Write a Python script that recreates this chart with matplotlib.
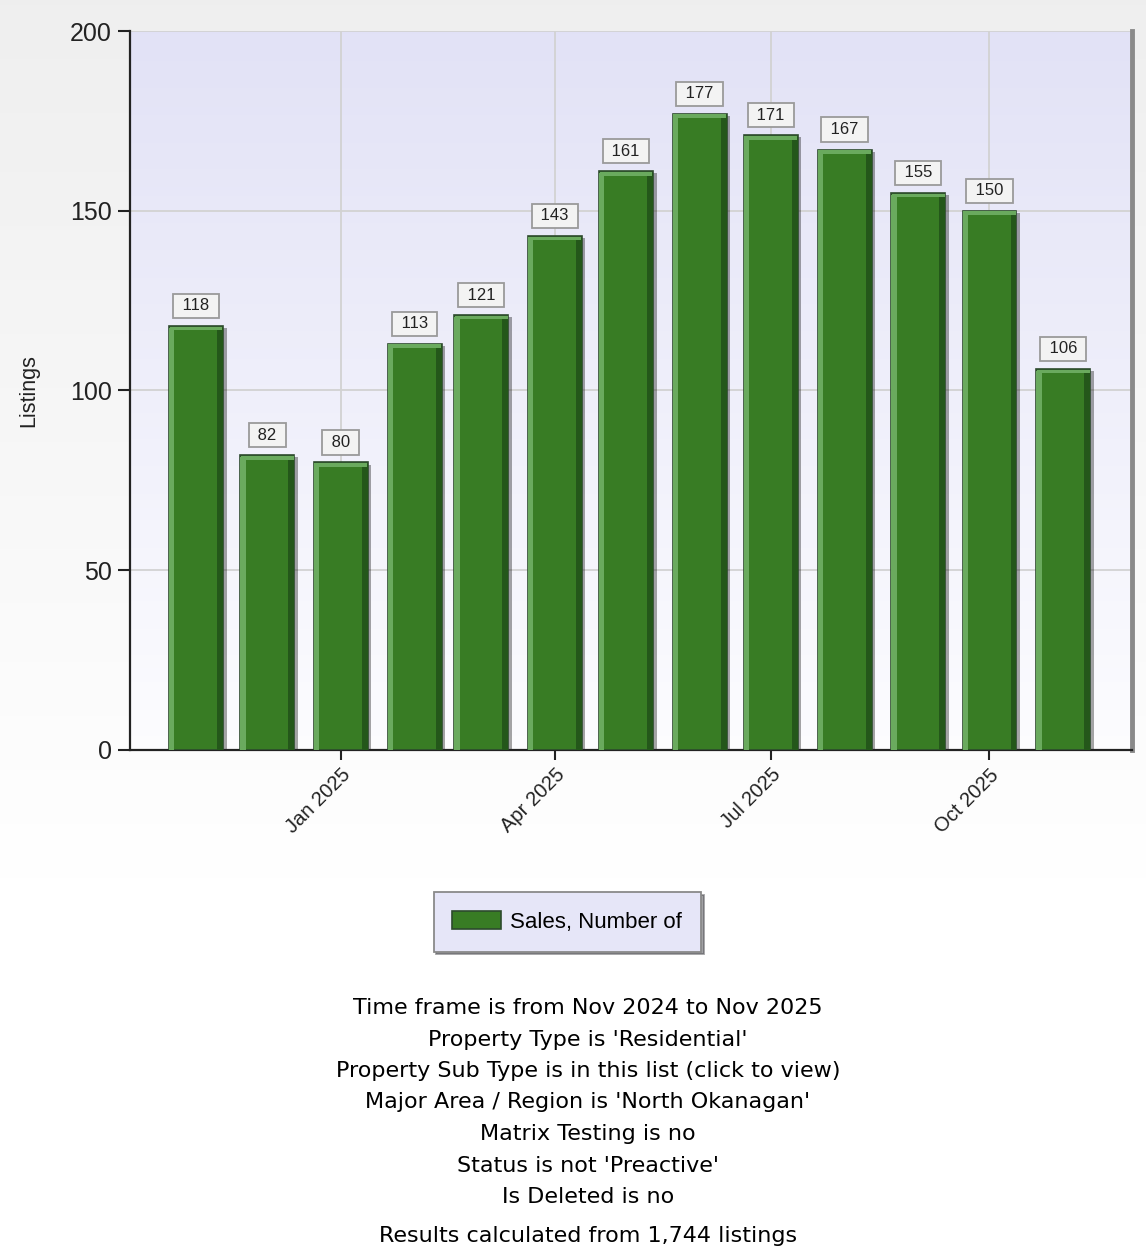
import matplotlib.pyplot as plt
import matplotlib.dates as mdates
from matplotlib.patches import Patch
import pandas as pd
import numpy as np

plt.rcParams['font.family'] = ['Liberation Sans', 'DejaVu Sans']

months = ["2024-11", "2024-12", "2025-01", "2025-02", "2025-03", "2025-04", "2025-05",
          "2025-06", "2025-07", "2025-08", "2025-09", "2025-10", "2025-11"]
sales = [118, 82, 80, 113, 121, 143, 161, 177, 171, 167, 155, 150, 106]
tick_months = ["2025-01", "2025-04", "2025-07", "2025-10"]
series_name = "Sales, Number of"
footer = ["Time frame is from Nov 2024 to Nov 2025",
          "Property Type is 'Residential'",
          "Property Sub Type is in this list (click to view)",
          "Major Area / Region is 'North Okanagan'",
          "Matrix Testing is no",
          "Status is not 'Preactive'",
          "Is Deleted is no"]
footer_last = "Results calculated from 1,744 listings"

x = mdates.date2num(pd.to_datetime(months))
h = np.array(sales, dtype=float)
bw = 22.7  # bar width in days

fig = plt.figure(figsize=(11.46, 12.56), dpi=100)

# page background gradient
bg = fig.add_axes([0, 0, 1, 1], zorder=-10)
grad = np.linspace(0, 1, 256).reshape(-1, 1)
top = np.array([0.937, 0.937, 0.937])
bot = np.array([1.0, 1.0, 1.0])
g = np.clip(grad / 0.7, 0, 1)
img = top + (bot - top) * g[..., None]
bg.imshow(img, aspect='auto', extent=[0, 1, 0, 1], origin='upper')
bg.axis('off')

ax = fig.add_axes([0.1134, 0.4029, 0.8744, 0.5724])
ax.patch.set_visible(False)
pa = np.linspace(0, 1, 256).reshape(-1, 1)
ptop = np.array([0.886, 0.886, 0.965])
pbot = np.array([0.99, 0.99, 1.0])
pimg = ptop + (pbot - ptop) * pa[..., None]
ax.imshow(pimg, aspect='auto', extent=[0, 1, 0, 1], origin='upper',
          transform=ax.transAxes, zorder=0)

ax.set_xlim(x[0] - 27.8, x[0] + 394)
ax.set_ylim(0, 200)

# shadows
ax.bar(x + 1.5, h - 0.6, bw, color='black', alpha=0.35, zorder=2, linewidth=0)
# main bars
ax.bar(x, h, bw, color='#387c24', edgecolor='#2d4a2d', linewidth=1.2, zorder=3)
# bevel: left light, right dark, top light
ax.bar(x - bw / 2 + bw * 0.05, h - 0.5, bw * 0.1, color='#6aaa5e', linewidth=0, zorder=4)
ax.bar(x + bw / 2 - bw * 0.055, h - 0.5, bw * 0.11, color='#24571a', linewidth=0, zorder=4)
ax.bar(x, np.full_like(h, 1.0), bw * 0.98, bottom=h - 1.2, color='#6aaa5e', linewidth=0, zorder=4)

for xi, hi in zip(x, sales):
    ax.annotate(f" {hi} ", (xi, hi), xytext=(0, 9), textcoords='offset points',
                ha='center', va='bottom', fontsize=12, color='#222222', zorder=6,
                bbox=dict(boxstyle='square,pad=0.28', fc='#f3f3f3', ec='#9a9a9a', lw=1.3))

ax.set_yticks([0, 50, 100, 150, 200])
ax.set_xticks(mdates.date2num(pd.to_datetime(tick_months)))
ax.set_xticklabels([pd.to_datetime(m).strftime("%b %Y") for m in tick_months],
                   rotation=45, ha='right', rotation_mode='anchor')
ax.tick_params(axis='y', labelsize=18, length=9, width=1.5, colors='#222222', pad=4)
ax.tick_params(axis='x', labelsize=14.5, length=7, width=1.5, colors='#222222', pad=4)
ax.grid(True, color='#d2d2d2', linewidth=1.3, zorder=1)
ax.set_axisbelow(True)
for ln in ax.get_xgridlines() + ax.get_ygridlines():
    ln.set_zorder(1)

ax.spines['top'].set_visible(False)
ax.spines['left'].set_linewidth(1.6)
ax.spines['left'].set_color('#222222')
ax.spines['bottom'].set_linewidth(1.6)
ax.spines['bottom'].set_color('#222222')
ax.spines['right'].set_linewidth(3.5)
ax.spines['right'].set_color('#8a8a8a')

ax.set_ylabel("Listings", fontsize=15.5, color='#222222', labelpad=22)

leg = fig.legend(handles=[Patch(facecolor='#387c24', edgecolor='#2d4a2d', lw=1.2, label=series_name)],
                 loc='center', bbox_to_anchor=(0.495, 0.266), fontsize=16,
                 frameon=True, fancybox=False, shadow=True, handlelength=2.2,
                 handleheight=0.85, borderpad=0.85, handletextpad=0.4, borderaxespad=0)
leg.get_frame().set_facecolor('#e6e6f8')
leg.get_frame().set_edgecolor('#8a8a8a')
leg.get_frame().set_linewidth(1.3)
leg.get_frame().set_alpha(1)

for i, line in enumerate(footer):
    fig.text(0.513, 1 - (1008 + i * 31.5) / 1256, line, ha='center', va='center',
             fontsize=16, color='black', family='DejaVu Sans')
fig.text(0.513, 1 - 1236 / 1256, footer_last, ha='center', va='center',
         fontsize=16, color='black', family='DejaVu Sans')

fig.savefig("out.png", dpi=100)
